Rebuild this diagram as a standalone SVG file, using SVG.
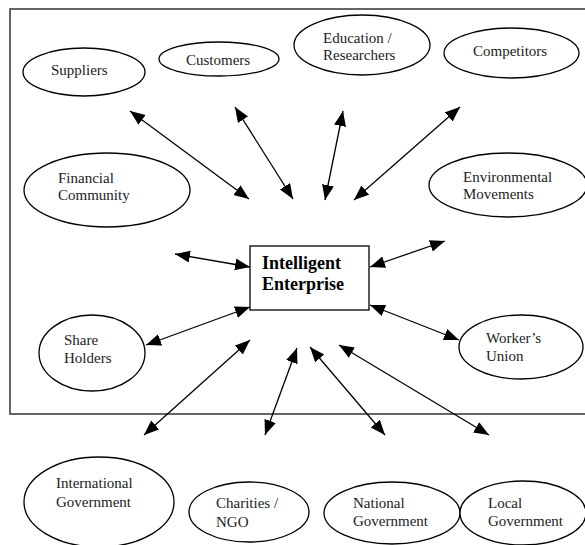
<svg xmlns="http://www.w3.org/2000/svg" width="585" height="545" viewBox="0 0 585 545">
<style>
.n ellipse{fill:#fff;stroke:#000;stroke-width:1.3}
.t{font-family:"Liberation Serif","Times New Roman",serif;font-size:15px;fill:#222}
.b{font-family:"Liberation Serif","Times New Roman",serif;font-size:18px;font-weight:bold;fill:#000}
#connectors line{stroke:#000;stroke-width:1.3;marker-start:url(#ah);marker-end:url(#ah)}
</style>
<defs>
<marker id="ah" markerUnits="userSpaceOnUse" markerWidth="16" markerHeight="13" refX="15" refY="6" orient="auto-start-reverse">
<path d="M0,0 L15,6 L0,12 z" fill="#000"/>
</marker>
</defs>
<rect width="585" height="545" fill="#fff"/>
<rect x="10" y="9" width="580" height="405" fill="none" stroke="#333" stroke-width="1.5"/>
<g id="suppliers" class="n"><ellipse cx="84" cy="72" rx="61" ry="24"/><text class="t" x="51" y="75">Suppliers</text></g>
<g id="customers" class="n"><ellipse cx="219" cy="59" rx="60" ry="17"/><text class="t" x="186" y="65">Customers</text></g>
<g id="education" class="n"><ellipse cx="362" cy="45" rx="68" ry="30"/><text class="t" x="323" y="43">Education /</text><text class="t" x="323" y="60">Researchers</text></g>
<g id="competitors" class="n"><ellipse cx="511.5" cy="53" rx="67.5" ry="25"/><text class="t" x="473" y="56">Competitors</text></g>
<g id="financial" class="n"><ellipse cx="107" cy="190" rx="83" ry="37"/><text class="t" x="58" y="183">Financial</text><text class="t" x="58" y="200">Community</text></g>
<g id="environmental" class="n"><ellipse cx="508" cy="185" rx="79" ry="32"/><text class="t" x="463" y="182">Environmental</text><text class="t" x="463" y="199">Movements</text></g>
<g id="enterprise"><rect x="250" y="246" width="119" height="64" fill="#fff" stroke="#000" stroke-width="1.3"/><text class="b" x="262" y="269">Intelligent</text><text class="b" x="262" y="290">Enterprise</text></g>
<g id="shareholders" class="n"><ellipse cx="92" cy="353" rx="53" ry="38"/><text class="t" x="64" y="345">Share</text><text class="t" x="64" y="363">Holders</text></g>
<g id="union" class="n"><ellipse cx="521" cy="347" rx="62" ry="32"/><text class="t" x="486" y="343">Worker’s</text><text class="t" x="486" y="361">Union</text></g>
<g id="international" class="n"><ellipse cx="99" cy="502" rx="75" ry="45"/><text class="t" x="56" y="488">International</text><text class="t" x="56" y="507">Government</text></g>
<g id="charities" class="n"><ellipse cx="249" cy="512" rx="60" ry="30"/><text class="t" x="216" y="508">Charities /</text><text class="t" x="216" y="527">NGO</text></g>
<g id="national" class="n"><ellipse cx="392" cy="513" rx="68" ry="31"/><text class="t" x="353" y="508">National</text><text class="t" x="353" y="526">Government</text></g>
<g id="local" class="n"><ellipse cx="523" cy="513" rx="63" ry="32"/><text class="t" x="488" y="508">Local</text><text class="t" x="488" y="526">Government</text></g>
<g id="connectors">
<line x1="130" y1="111" x2="249" y2="199"/>
<line x1="235" y1="107" x2="293" y2="199"/>
<line x1="343" y1="111" x2="325" y2="200"/>
<line x1="460" y1="107" x2="354" y2="200"/>
<line x1="175" y1="254" x2="250" y2="267"/>
<line x1="370" y1="267" x2="445" y2="241"/>
<line x1="146" y1="345" x2="250" y2="307"/>
<line x1="370" y1="305" x2="459" y2="340"/>
<line x1="250" y1="340" x2="144" y2="435"/>
<line x1="297" y1="348" x2="265" y2="435"/>
<line x1="310" y1="347" x2="385" y2="435"/>
<line x1="339" y1="345" x2="489" y2="435"/>
</g>
</svg>
